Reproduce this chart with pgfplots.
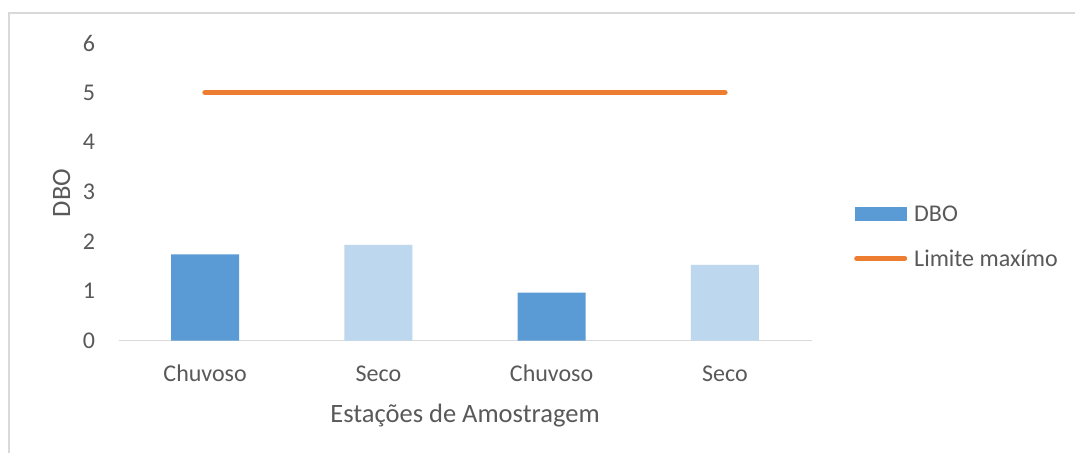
\documentclass[border=0pt]{standalone}
\usepackage{fontspec}
\setmainfont{Carlito}
\usepackage{pgfplots}
\pgfplotsset{compat=1.18}
\definecolor{dboblue}{HTML}{5B9BD5}
\definecolor{dbolight}{HTML}{BDD7EE}
\definecolor{limorange}{HTML}{ED7D31}
\definecolor{txtgray}{HTML}{595959}
\definecolor{framegray}{HTML}{D9D9D9}
\begin{document}
\begin{tikzpicture}[x=1pt,y=1pt]
\useasboundingbox (0,0) rectangle (1075,453);
\fill[white] (0,0) rectangle (1075,453);
% outer chart frame (only top and left edges are visible)
\draw[framegray, line width=1.5pt] (9,0) -- (9,440) -- (1075,440);
\begin{axis}[
  at={(118.5pt,112.3pt)}, anchor=south west,
  scale only axis,
  width=693pt, height=297.7pt,
  xmin=-0.5, xmax=3.5, ymin=0, ymax=6,
  axis x line*=bottom,
  axis y line*=left,
  x axis line style={framegray, line width=1.5pt, -},
  y axis line style={draw=none, -},
  ytick={0,1,2,3,4,5,6},
  xtick={0,1,2,3},
  xticklabels={Chuvoso,Seco,Chuvoso,Seco},
  major tick length=0pt,
  tick style={draw=none},
  ticklabel style={font=\fontsize{24}{28}\selectfont, text=txtgray},
  /pgf/number format/assume math mode=true,
  yticklabel style={anchor=east, xshift=-20pt},
  xticklabel style={anchor=base, yshift=-41pt},
  xlabel={Estações de Amostragem},
  ylabel={DBO},
  label style={font=\fontsize{26.5}{30}\selectfont, text=txtgray},
  xlabel style={at={(axis description cs:0.5,0)}, anchor=base, yshift=-82pt},
  ylabel style={at={(axis description cs:-0.082,0.496)}, anchor=center, rotate=0},
  clip=false,
  legend style={at={(axis description cs:1.0613,0.458)}, anchor=north west,
    draw=none, fill=none, inner sep=0pt,
    font=\fontsize{24}{28}\selectfont, text=txtgray,
    row sep=25pt, legend cell align=left,
    nodes={inner sep=1pt},
    /tikz/every odd column/.append style={column sep=6pt}},
]
\addplot[ybar, bar width=68pt, bar shift=0pt, fill=dboblue, draw=none,
  legend image code/.code={\fill[dboblue] (0pt,-7pt) rectangle (52pt,7pt);}]
  coordinates {(0,1.74) (2,0.97)};
\addlegendentry{DBO}
\addplot[ybar, bar width=68pt, bar shift=0pt, fill=dbolight, draw=none, forget plot]
  coordinates {(1,1.93) (3,1.53)};
\addplot[limorange, line width=5.5pt, line cap=round, mark=none,
  legend image code/.code={\draw[limorange, line width=5pt, line cap=round] (2pt,0pt) -- (50pt,0pt);}]
  coordinates {(0,5) (3,5)};
\addlegendentry{Limite maxímo}
\end{axis}
\end{tikzpicture}
\end{document}
